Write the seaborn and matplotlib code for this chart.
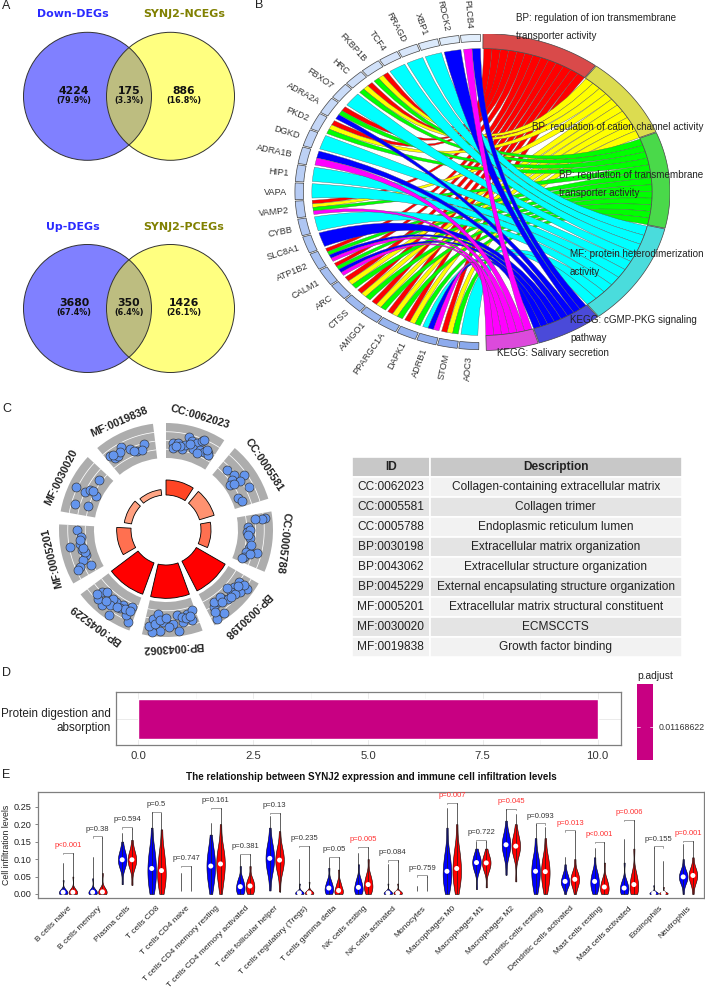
import numpy as np
import pandas as pd
import matplotlib
matplotlib.use("Agg")
import matplotlib.pyplot as plt
from matplotlib.patches import Circle, PathPatch
from matplotlib.path import Path
import seaborn as sns

W, H = 705, 991

# A: venn counts
venn_titles = [("Down-DEGs", "SYNJ2-NCEGs"), ("Up-DEGs", "SYNJ2-PCEGs")]
venn_counts = [(4224, 175, 886), (3680, 350, 1426)]
venn_pcts = [("79.9%", "3.3%", "16.8%"), ("67.4%", "6.4%", "26.1%")]

# B: chord
term_names = ["BP: regulation of ion transmembrane\ntransporter activity",
              "BP: regulation of cation channel activity",
              "BP: regulation of transmembrane\ntransporter activity",
              "MF: protein heterodimerization\nactivity",
              "KEGG: cGMP-PKG signaling\npathway",
              "KEGG: Salivary secretion"]
term_keys = "RYGCBM"
term_ends = [37.4, 68.0, 103.5, 142.0, 162.6, 179.0]
gene_names = ["PLCB4", "ROCK2", "XBP1", "RRAGD", "TCF4", "FKBP1B", "HRC", "FBXO7", "ADRA2A",
              "PKD2", "DGKD", "ADRA1B", "HIP1", "VAPA", "VAMP2", "CYBB", "SLC8A1", "ATP1B2",
              "CALM1", "ARC", "CTSS", "AMIGO1", "PPARGC1A", "DAPK1", "ADRB1", "STOM", "AOC3"]
gene_terms = ["BM", "B", "C", "C", "C", "RYG", "RYG", "C", "RGB",
              "RYG", "C", "BM", "C", "C", "RYGM", "C", "B", "RGBM",
              "RGBM", "RYG", "RYG", "RYG", "RYG", "RYG", "CBM", "RYG", "C"]

# C: circular GO plot
go_ids = ["CC:0062023", "CC:0005581", "CC:0005788", "BP:0030198", "BP:0043062",
          "BP:0045229", "MF:0005201", "MF:0030020", "MF:0019838"]
go_bars = [45, 46, 30, 100, 100, 100, 43, 22, 17]
go_frac = [
    [.13, .155, .245, .33, .38, .43, .49, .59, .66, .69, .56, .70, .78, .86, .89, .66, .29, .20, .47, .82],
    [.16, .33, .38, .44, .50, .69, .45, .48, .78, .89],
    [.10, .10, .09, .23, .34, .47, .68, .77, .88, .74, .79, .91, .30, .40, .60],
    [.915, .75, .855, .72, .39, .30, .17, .18, .30, .42, .80, .61, .38, .16, .64, .42, .55, .25, .48, .68, .88],
    [.39, .71, .84, .91, .85, .77, .66, .39, .18, .06, .12, .28, .47, .56, .81, .30, .22, .72, .60, .14],
    [.07, .19, .12, .29, .44, .42, .62, .75, .79, .72, .53, .32, .15, .51, .83, .23, .38, .60, .12],
    [.90, .77, .63, .60, .50, .38, .30, .21, .15, .17, .45, .55, .70],
    [.47, .18, .22, .80, .46, .54, .49, .54],
    [.08, .14, .21, .34, .28, .48, .61, .78, .70, .15, .55],
]
go_level = [
    [.44, .30, .46, .31, .44, .68, .58, .58, .69, .74, .39, .44, .41, .44, .41, .31, .37, .36, .48, .52],
    [.39, .44, .31, .67, .49, .60, .19, .28, .19, .26],
    [.80, .70, .51, .30, .26, .36, .36, .30, .29, .63, .45, .26, .34, .30, .40],
    [.86, .83, .52, .49, .50, .47, .50, .80, .70, .50, .41, .50, .63, .67, .40, .35, .58, .55, .60, .55, .66],
    [.86, .84, .87, .72, .50, .34, .57, .40, .41, .35, .63, .62, .63, .71, .64, .47, .52, .52, .45, .50],
    [.78, .45, .35, .42, .44, .86, .77, .70, .50, .40, .42, .54, .63, .63, .64, .50, .55, .60, .48],
    [.50, .37, .44, .72, .40, .33, .47, .62, .30, .70, .35, .38, .42],
    [.80, .64, .28, .33, .51, .41, .16, .30],
    [.59, .47, .45, .64, .53, .49, .35, .49, .34, .57, .38],
]
go_desc = ["Collagen-containing extracellular matrix", "Collagen trimer", "Endoplasmic reticulum lumen",
           "Extracellular matrix organization", "Extracellular structure organization",
           "External encapsulating structure organization", "Extracellular matrix structural constituent",
           "ECMSCCTS", "Growth factor binding"]

# D: enrichment bar
kegg_name = ["Protein digestion and\nabsorption"]
kegg_count = [10]
kegg_padj = "0.01168622"

# E: min, q1, median, q3, upper shoulder, max per cell type
cell_types = ["B cells naive", "B cells memory", "Plasma cells", "T cells CD8", "T cells CD4 naive",
              "T cells CD4 memory resting", "T cells CD4 memory activated", "T cells follicular helper",
              "T cells regulatory (Tregs)", "T cells gamma delta", "NK cells resting", "NK cells activated",
              "Monocytes", "Macrophages M0", "Macrophages M1", "Macrophages M2", "Dendritic cells resting",
              "Dendritic cells activated", "Mast cells resting", "Mast cells activated", "Eosinophils",
              "Neutrophils"]
low_stats = [
    (0, 0, .005, .012, .04, .09), (0, 0, .005, .012, .045, .105), (.028, .08, .098, .118, .15, .174),
    (0, .03, .073, .12, .19, .234), (0, 0, 0, 0, 0, .059), (0, .04, .08, .12, .17, .204),
    (0, .005, .021, .04, .08, .112), (.01, .07, .102, .135, .19, .223), (0, 0, .003, .008, .03, .101),
    (0, .005, .017, .035, .075, .102), (0, .005, .019, .04, .085, .117), (0, 0, .003, .008, .03, .086),
    (0, 0, 0, 0, 0, .022), (0, .03, .065, .11, .19, .246), (.014, .07, .09, .105, .13, .15),
    (.055, .115, .141, .165, .21, .243), (0, .03, .065, .1, .16, .201), (0, .025, .036, .055, .085, .105),
    (0, .015, .036, .06, .105, .132), (0, .003, .017, .035, .09, .156), (0, 0, .002, .006, .025, .135),
    (0, .035, .049, .065, .1, .144)]
high_stats = [
    (0, 0, .005, .012, .05, .117), (0, 0, .006, .015, .06, .164), (.026, .08, .098, .118, .155, .19),
    (0, .03, .067, .115, .185, .231), (0, 0, 0, 0, 0, .08), (0, .045, .086, .125, .2, .245),
    (0, .006, .023, .04, .08, .114), (.007, .07, .097, .125, .18, .231), (0, 0, .003, .008, .035, .137),
    (0, .002, .01, .03, .07, .105), (0, .01, .027, .05, .1, .134), (0, 0, .003, .008, .03, .096),
    (0, 0, 0, 0, 0, .052), (0, .035, .073, .12, .2, .26), (.019, .07, .089, .105, .13, .153),
    (.036, .115, .137, .16, .2, .23), (0, .03, .064, .1, .16, .192), (0, .025, .042, .06, .1, .181),
    (0, .005, .02, .04, .09, .148), (0, .005, .027, .055, .13, .211), (0, 0, .002, .005, .02, .094),
    (0, .035, .053, .07, .105, .151)]
p_labels = ["p<0.001", "p=0.38", "p=0.594", "p=0.5", "p=0.747", "p=0.161", "p=0.381", "p=0.13", "p=0.235",
            "p=0.05", "p=0.005", "p=0.084", "p=0.759", "p=0.007", "p=0.722", "p=0.045", "p=0.093", "p=0.013",
            "p<0.001", "p=0.006", "p=0.155", "p=0.001"]
p_signif = [1, 0, 0, 0, 0, 0, 0, 0, 0, 0, 1, 0, 0, 1, 0, 1, 0, 1, 1, 1, 0, 1]

sns.set_theme(style="white")
plt.rcParams["font.family"] = ["Liberation Sans", "DejaVu Sans"]
fig = plt.figure(figsize=(W / 100, H / 100), dpi=100, facecolor="white")


def px_axes(left, top, right, bottom, **kw):
    return fig.add_axes([left / W, 1 - bottom / H, (right - left) / W, (bottom - top) / H], **kw)


def px_text(x, y, s, **kw):
    kw.setdefault("va", "center")
    fig.text(x / W, 1 - y / H, s, **kw)


for lab, x, y in [("A", 2, 6), ("B", 255, 5), ("C", 2, 409), ("D", 2, 673), ("E", 2, 775)]:
    px_text(x, y, lab, fontsize=9, color="#222222")

# ---- A ----
for k, cy in enumerate([96.3, 308.5]):
    ax = px_axes(0, cy - 96.3, 240, cy + 96.3)
    ax.set_xlim(0, 240)
    ax.set_ylim(96.3, -96.3)
    ax.axis("off")
    left = Circle((87.5, 0), 64, fc="#8080FF", ec="none")
    right = Circle((170.5, 0), 64, fc="#FFFF80", ec="none")
    ax.add_patch(left)
    ax.add_patch(right)
    overlap = Circle((87.5, 0), 64, fc="#BDBD80", ec="none")
    ax.add_patch(overlap)
    overlap.set_clip_path(right)
    ax.add_patch(Circle((87.5, 0), 64, fc="none", ec="#333333", lw=0.7))
    ax.add_patch(Circle((170.5, 0), 64, fc="none", ec="#333333", lw=0.7))
    for x, n, pct in zip([74, 129, 184], venn_counts[k], venn_pcts[k]):
        ax.text(x, -5.3, str(n), ha="center", va="center", fontsize=7.8, fontweight="bold",
                family="DejaVu Sans", color="#111111")
        ax.text(x, 4.3, "(" + pct + ")", ha="center", va="center", fontsize=5.8, fontweight="bold",
                family="DejaVu Sans", color="#111111")
    ty = 14 if k == 0 else 227
    px_text(73, ty, venn_titles[k][0], ha="center", fontsize=7.9, fontweight="bold",
            family="DejaVu Sans", color="#2A2AFF")
    px_text(184, ty, venn_titles[k][1], ha="center", fontsize=7.9, fontweight="bold",
            family="DejaVu Sans", color="#808000")

# ---- B ----
ax = px_axes(294, 33.5, 670, 350.5)
ax.set_xlim(-1, 1)
ax.set_ylim(-1, 1)
ax.axis("off")
ribbon_cols = dict(zip(term_keys, ["#FF0000", "#FFFF00", "#00FF00", "#00FFFF", "#0000FF", "#FF00FF"]))
ring_cols = dict(zip(term_keys, ["#D94A4A", "#DCDC50", "#4AD94A", "#4ADCDC", "#4A4AD9", "#DC4ADC"]))


def pol(t, r):
    a = np.radians(t)
    return r * np.sin(a), r * np.cos(a)


def ring(t0, t1, r0, r1, fc):
    ts = np.linspace(t0, t1, 40)
    pts = [pol(t, r1) for t in ts] + [pol(t, r0) for t in ts[::-1]]
    ax.fill(*zip(*pts), fc=fc, ec="#444444", lw=0.5, zorder=3)


CHORD_R = 0.905
gene_step = 179.0 / len(gene_names)
# where each ribbon lands on the gene side
gene_slices = {}
for i, (g, terms) in enumerate(zip(gene_names, gene_terms)):
    hi = 359.5 - i * gene_step
    sub = (gene_step - 0.9) / len(terms)
    for j, key in enumerate(terms):
        gene_slices[(g, key)] = (hi - j * sub, hi - (j + 1) * sub)

starts = [0.3] + term_ends[:-1]
for key, t0, t1 in zip(term_keys, starts, term_ends):
    members = [g for g, terms in zip(gene_names, gene_terms) if key in terms]
    step = (t1 - t0 - 0.6) / len(members)
    for m, g in enumerate(members):
        a0 = t0 + 0.3 + m * step
        a1 = a0 + step
        g_hi, g_lo = gene_slices[(g, key)]
        arc1 = [pol(t, CHORD_R) for t in np.linspace(a0, a1, 8)]
        arc2 = [pol(t, CHORD_R) for t in np.linspace(g_lo, g_hi, 8)]
        verts = arc1 + [(0, 0), arc2[0]] + arc2[1:] + [(0, 0), arc1[0]]
        codes = [Path.MOVETO] + [Path.LINETO] * 7 + [Path.CURVE3, Path.CURVE3] + [Path.LINETO] * 7 + \
                [Path.CURVE3, Path.CURVE3]
        ax.add_patch(PathPatch(Path(verts, codes), fc=ribbon_cols[key], ec="#555555", lw=0.25, zorder=2))
    ring(t0, t1 - 0.3, CHORD_R, 1.0, ring_cols[key])

gene_cols = sns.blend_palette(["#E2EEFC", "#8AA9EC"], len(gene_names))
for i, g in enumerate(gene_names):
    hi = 359.5 - i * gene_step
    ring(hi - gene_step + 0.5, hi, 0.95, 0.995, gene_cols[i])
    mid = hi - gene_step / 2
    lx, ly = pol(mid, 1.035)
    dx, dy = pol(mid, 1.0)
    rot = np.degrees(np.arctan2(-dy * 158.5, -dx * 188))
    ax.text(lx, ly, g, rotation=rot, rotation_mode="anchor", ha="right", va="center",
            fontsize=6.6, color="#333333", clip_on=False)

term_pos = [(516, 18), (532, 127), (559, 175), (570, 254), (570, 320), (497, 353)]
for name, (x, y) in zip(term_names, term_pos):
    for n, line in enumerate(name.split("\n")):
        px_text(x, y + 17.7 * n, line, fontsize=7.1, color="#222222", zorder=6)

# ---- C ----
ax = px_axes(41, 405, 291, 655, projection="polar")
ax.set_theta_zero_location("N")
ax.set_theta_direction(-1)
ax.set_ylim(0, 125)
ax.axis("off")
go_colors = ["#FF4525", "#FF9270", "#FF7050", "#FF0000", "#FF0000", "#FF0000", "#FF7050", "#FFA080", "#FFA585"]
SPAN = 33
pt_theta, pt_r = [], []
for i, gid in enumerate(go_ids):
    t0 = 40 * i
    mid = np.radians(t0 + SPAN / 2)
    width = np.radians(SPAN)
    ax.bar(mid, 35, width=width, bottom=72, color="#ADADAD", lw=0)
    ts = np.radians(np.linspace(t0, t0 + SPAN, 30))
    for lev in [.25, .5, .75]:
        ax.plot(ts, np.full(30, 72 + 35 * lev), color="white", lw=0.55)
    ax.bar(mid, go_bars[i] / 3, width=width, bottom=35, color=go_colors[i], edgecolor="black", lw=0.6)
    for f, lv in zip(go_frac[i], go_level[i]):
        pt_theta.append(np.radians(t0 + SPAN * f))
        pt_r.append(72 + 35 * lv)
    ax.text(mid, 117.5, gid, rotation=-(t0 + SPAN / 2), rotation_mode="anchor", ha="center", va="center",
            fontsize=7.8, fontweight="bold", color="#222222")
sns.scatterplot(x=pt_theta, y=pt_r, s=42, color="#6495ED", edgecolor="#333333", linewidth=0.45, ax=ax, zorder=4)
ax.set_ylim(0, 125)
ax.axis("off")

# table
ax = px_axes(352, 457, 682, 657)
ax.axis("off")
tbl = ax.table(cellText=[[a, b] for a, b in zip(go_ids, go_desc)], colLabels=["ID", "Description"],
               colWidths=[0.235, 0.765], bbox=[0, 0, 1, 1], cellLoc="center")
tbl.auto_set_font_size(False)
for (r, c), cell in tbl.get_celld().items():
    cell.set_edgecolor("white")
    cell.set_linewidth(1.2)
    cell.set_text_props(fontsize=8.6, color="#222222", fontweight="bold" if r == 0 else "normal")
    if r == 0:
        cell.set_facecolor("#C8C8C8")
    else:
        cell.set_facecolor("#F2F2F2" if r % 2 else "#E4E4E4")

# ---- D ----
ax = px_axes(116, 692.3, 620.5, 745.3)
kegg = pd.DataFrame({"term": kegg_name, "count": kegg_count})
sns.barplot(data=kegg, y="term", x="count", color="#C80082", saturation=1, width=0.9, ax=ax)
ax.set_xlim(-0.49, 10.5)
ax.set_ylim(0.6, -0.6)
ax.set_xticks([0, 2.5, 5, 7.5, 10])
ax.set_xticklabels(["0.0", "2.5", "5.0", "7.5", "10.0"])
ax.set_xticks([1.25, 3.75, 6.25, 8.75], minor=True)
ax.grid(True, which="major", color="#EBEBEB", lw=0.7)
ax.grid(True, which="minor", axis="x", color="#F2F2F2", lw=0.4)
ax.set_axisbelow(True)
ax.set_xlabel("")
ax.set_ylabel("")
ax.tick_params(axis="x", labelsize=8.2, length=2, width=0.5, color="#555555", labelcolor="#333333", pad=2)
ax.tick_params(axis="y", labelsize=8.4, length=2, width=0.5, color="#555555", labelcolor="#222222", pad=2)
for s in ax.spines.values():
    s.set_color("#7F7F7F")
    s.set_linewidth(0.9)

cax = px_axes(637, 684.3, 653, 760)
cax.set_facecolor("#C80082")
cax.set_xlim(0, 1)
cax.set_ylim(0, 1)
cax.set_xticks([])
cax.set_yticks([])
for s in cax.spines.values():
    s.set_visible(False)
cax.plot([0, 0.2], [0.435, 0.435], color="white", lw=0.5)
cax.plot([0.8, 1], [0.435, 0.435], color="white", lw=0.5)
px_text(637, 675.7, "p.adjust", fontsize=7.4, color="#222222")
px_text(659, 727, kegg_padj, fontsize=6.3, color="#333333")

# ---- E ----
ax = px_axes(38, 792, 704, 898)
rows = []
for cell, lo, hi in zip(cell_types, low_stats, high_stats):
    for group, st in [("low", lo), ("high", hi)]:
        if st[4] == 0:
            continue  # nothing but zeros, only the whisker shows
        for v, rep in zip(st[:5], [1, 3, 4, 3, 1]):
            rows += [(cell, group, v)] * rep
immune = pd.DataFrame(rows, columns=["cell", "group", "value"])
sns.violinplot(data=immune, x="cell", y="value", hue="group", order=cell_types, hue_order=["low", "high"],
               palette={"low": "#0000FF", "high": "#FF0000"}, saturation=1, dodge=True, width=0.66, gap=0.12,
               cut=0, bw_adjust=0.95, density_norm="width", inner=None, linewidth=0.4, linecolor="black",
               legend=False, ax=ax)
OFF = 0.165
xs = np.arange(len(cell_types))
low_arr = np.array(low_stats)
high_arr = np.array(high_stats)
for i in xs:
    for sign, st in [(-1, low_arr[i]), (1, high_arr[i])]:
        ax.plot([i + sign * OFF] * 2, [st[0], st[5]], color="#222222", lw=0.5, zorder=3)
    top = max(low_arr[i, 5], high_arr[i, 5]) + 0.001
    ax.plot([i - OFF, i - OFF, i + OFF, i + OFF], [top - 0.004, top, top, top - 0.004],
            color="#777777", lw=0.5, zorder=2)
    ax.text(i, top + 0.021, p_labels[i], ha="center", va="center", fontsize=5.5,
            color="#FF3030" if p_signif[i] else "#333333", clip_on=False)
sns.scatterplot(x=np.r_[xs - OFF, xs + OFF], y=np.r_[low_arr[:, 2], high_arr[:, 2]], s=13, color="white",
                edgecolor="none", ax=ax, zorder=4, legend=False)
ax.set_xlim(-1.016, 21.54)
ax.set_ylim(-0.0115, 0.292)
ax.set_yticks([0, .05, .1, .15, .2, .25])
ax.set_yticklabels(["0.00", "0.05", "0.10", "0.15", "0.20", "0.25"])
ax.set_xlabel("")
ax.set_ylabel("Cell infiltration levels", fontsize=6.3, labelpad=2, color="#222222")
ax.tick_params(axis="y", labelsize=6.6, length=2.5, width=0.5, pad=2, left=True, color="#555555", labelcolor="#222222")
ax.tick_params(axis="x", labelsize=6.0, length=0, pad=5, labelcolor="#222222")
plt.setp(ax.get_xticklabels(), rotation=45, ha="right", rotation_mode="anchor")
for s in ax.spines.values():
    s.set_color("#7F7F7F")
    s.set_linewidth(0.9)
px_text(371, 777, "The relationship between SYNJ2 expression and immune cell infiltration levels",
        ha="center", fontsize=7.1, fontweight="bold", color="#111111")

fig.savefig("out.png", dpi=100)
